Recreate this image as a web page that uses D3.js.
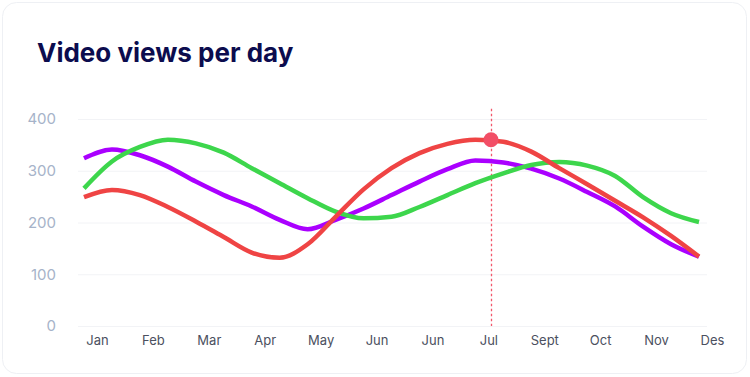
<!DOCTYPE html>
<html>
<head>
<meta charset="utf-8">
<script src="https://cdn.jsdelivr.net/npm/d3@7/dist/d3.min.js"></script>
<style>
  html, body { margin: 0; padding: 0; background: #ffffff; }
  svg { display: block; }
</style>
</head>
<body>
<svg id="chart" width="750" height="377"></svg>
<script>
// ---- data ----
const title = "Video views per day";
const months = ["Jan", "Feb", "Mar", "Apr", "May", "Jun", "Jun", "Jul", "Sept", "Oct", "Nov", "Des"];
const yTicks = [0, 100, 200, 300, 400];
// values read every half month (Jan ... Des)
const greenValues  = [266, 318, 346, 360, 353, 335, 305, 276, 247, 221, 208, 211, 230, 253, 276, 295, 311, 317, 310, 290, 249, 218, 201];
const purpleValues = [324, 341, 330, 308, 279, 253, 231, 205, 187, 205, 227, 253, 279, 303, 320, 316, 304, 285, 259, 231, 192, 158, 134];
const redValues    = [249, 263, 253, 230, 202, 172, 142, 132, 158, 211, 264, 305, 334, 352, 360, 356, 337, 305, 274, 242, 210, 174, 134];
const highlightMonth = 7.28;
const highlightValue = 360;

// ---- layout ----
const svg = d3.select("#chart");
const W = 750, H = 377;
const plot = { left: 84, right: 699, top: 119, bottom: 326 };

svg.append("rect")
  .attr("x", 2.5).attr("y", 2.5)
  .attr("width", W - 6).attr("height", H - 6)
  .attr("rx", 14)
  .attr("fill", "#ffffff")
  .attr("stroke", "#eef0f4");

svg.append("text")
  .attr("x", 37).attr("y", 62)
  .attr("font-family", "Inter, 'Open Sans', sans-serif")
  .attr("font-weight", 700)
  .attr("font-size", 26)
  .attr("fill", "#0c0c4e")
  .text(title);

const x = d3.scaleLinear().domain([0, months.length - 1]).range([plot.left, plot.right]);
const y = d3.scaleLinear().domain([0, 400]).range([plot.bottom, plot.top]);

// grid + y labels
const yAxis = d3.axisLeft(y).tickValues(yTicks).tickSize(0).tickPadding(0);
const gy = svg.append("g").attr("transform", "translate(56,0)").call(yAxis);
gy.select(".domain").remove();
gy.selectAll("text")
  .attr("font-family", "Inter, 'Open Sans', sans-serif")
  .attr("font-size", 15)
  .attr("fill", "#a6b3c9");

svg.append("g").selectAll("line")
  .data(yTicks)
  .join("line")
  .attr("x1", 78).attr("x2", 707)
  .attr("y1", d => y(d) + 0.5).attr("y2", d => y(d) + 0.5)
  .attr("stroke", "#f2f3f6")
  .attr("stroke-width", 1);

// x labels
const xAxis = d3.axisBottom(x).tickValues(d3.range(months.length)).tickFormat(i => months[i]).tickSize(0).tickPadding(0);
const gx = svg.append("g").attr("transform", "translate(13,345)").call(xAxis);
gx.select(".domain").remove();
gx.selectAll("text")
  .attr("dy", 0)
  .attr("font-family", "Inter, 'Open Sans', sans-serif")
  .attr("font-size", 13)
  .attr("fill", "#4b5060");

// dashed highlight line
const hx = Math.round(x(highlightMonth)) + 0.5;
svg.append("line")
  .attr("x1", hx).attr("x2", hx)
  .attr("y1", y(420)).attr("y2", y(0))
  .attr("stroke", "#f2566a")
  .attr("stroke-width", 1.3)
  .attr("stroke-dasharray", "2.5,2.5");

// lines (one value per half month)
const line = d3.line()
  .x((d, i) => x(i / 2))
  .y(d => y(d))
  .curve(d3.curveMonotoneX);

const series = [
  { values: purpleValues, color: "#aa00ff" },
  { values: greenValues,  color: "#3dd64c" },
  { values: redValues,    color: "#ef4444" }
];

svg.append("g").selectAll("path")
  .data(series)
  .join("path")
  .attr("d", d => line(d.values))
  .attr("fill", "none")
  .attr("stroke", d => d.color)
  .attr("stroke-width", 4.5)
  .attr("stroke-linecap", "butt");

svg.append("circle")
  .attr("cx", x(highlightMonth))
  .attr("cy", y(highlightValue))
  .attr("r", 7.5)
  .attr("fill", "#f24e66");
</script>
</body>
</html>
